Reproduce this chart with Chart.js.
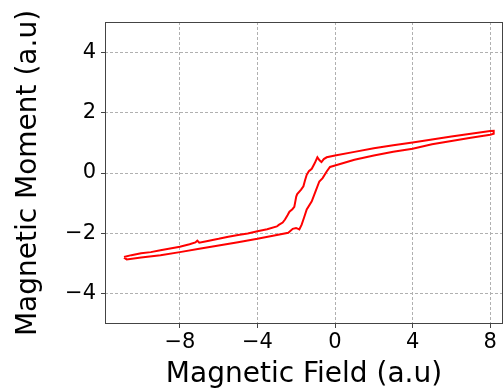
<!DOCTYPE html>
<html>
<head>
<meta charset="utf-8">
<script src="https://cdn.jsdelivr.net/npm/chart.js@4.4.1/dist/chart.umd.min.js"></script>
<style>
  html, body { margin: 0; padding: 0; background: #fff; }
  #wrap { width: 503px; height: 392px; }
</style>
</head>
<body>
<div id="wrap"><canvas id="c" width="503" height="392"></canvas></div>
<script>
// hysteresis loop: upper branch left -> right, then lower branch right -> left
const fieldValues = [
  -10.88, -10.5, -10.0, -9.5, -9.0, -8.5, -8.0, -7.5, -7.2, -7.1, -7.0, -6.5, -6.0, -5.5, -5.0, -4.5,
  -4.0, -3.5, -3.0, -2.9, -2.7, -2.58, -2.45, -2.35, -2.2, -2.1, -2.0, -1.95, -1.75, -1.63, -1.55,
  -1.46, -1.35, -1.2, -1.05, -0.91, -0.8, -0.7, -0.58, -0.43, 0.0, 1.0, 2.0, 3.0, 4.0, 5.0, 6.0,
  7.0, 8.0, 8.18, 8.18,
  8.0, 7.0, 6.0, 5.0, 4.0, 3.0, 2.0, 1.0, 0.0, -0.26, -0.43, -0.64, -0.81, -1.0, -1.2, -1.46,
  -1.6, -1.72, -1.84, -2.01, -2.18, -2.41, -3.0, -4.0, -5.0, -6.0, -7.0, -8.0, -9.0, -10.0,
  -10.74, -10.88
];
const momentValues = [
  -2.78, -2.72, -2.66, -2.62, -2.56, -2.50, -2.44, -2.36, -2.30, -2.24, -2.31, -2.24, -2.18, -2.11, -2.05, -2.00,
  -1.93, -1.86, -1.77, -1.72, -1.64, -1.54, -1.40, -1.28, -1.20, -1.12, -0.78, -0.70, -0.55, -0.44, -0.25,
  -0.06, 0.06, 0.14, 0.32, 0.52, 0.42, 0.36, 0.46, 0.52, 0.58, 0.70, 0.82, 0.92, 1.01, 1.11, 1.21,
  1.30, 1.39, 1.40, 1.30,
  1.27, 1.17, 1.06, 0.95, 0.80, 0.70, 0.58, 0.44, 0.25, 0.20, 0.05, -0.17, -0.28, -0.60, -0.94, -1.21,
  -1.48, -1.71, -1.87, -1.82, -1.85, -1.98, -2.05, -2.18, -2.29, -2.40, -2.51, -2.62, -2.72, -2.80,
  -2.86, -2.80
];
const xTicks = [-8, -4, 0, 4, 8];
const yTicks = [-4, -2, 0, 2, 4];

const fmt = v => (v < 0 ? "\u2212" + Math.abs(v) : String(v));
const tickFont = { family: "DejaVu Sans", size: 21 };
const titleFont = { family: "DejaVu Sans", size: 28 };

const frame = {
  id: "frame",
  afterDatasetsDraw(chart) {
    const { ctx, chartArea: a } = chart;
    ctx.save();
    ctx.strokeStyle = "#444";
    ctx.lineWidth = 1;
    ctx.strokeRect(a.left + 0.5, a.top + 0.5, a.right - a.left - 1, a.bottom - a.top - 1);
    ctx.restore();
  }
};

new Chart(document.getElementById("c"), {
  type: "scatter",
  data: {
    datasets: [{
      data: fieldValues.map((x, i) => ({ x: x, y: momentValues[i] })),
      showLine: true,
      borderColor: "#ff0000",
      borderWidth: 2,
      pointRadius: 0,
      tension: 0
    }]
  },
  options: {
    responsive: false,
    animation: false,
    devicePixelRatio: 1,
    layout: { padding: { top: 22, right: 0, left: 0, bottom: 0 } },
    plugins: { legend: { display: false }, tooltip: { enabled: false } },
    scales: {
      x: {
        type: "linear", min: -11.86, max: 8.66,
        afterBuildTicks: s => { s.ticks = xTicks.map(v => ({ value: v })); },
        afterFit: s => { s.height = 68; },
        ticks: { font: tickFont, color: "#000", padding: 2, maxRotation: 0, callback: v => fmt(v) },
        grid: { color: "#b0b0b0", tickColor: "#444", tickLength: 4, lineWidth: 1 },
        border: { display: false, dash: [3, 2] },
        title: { display: true, text: "Magnetic Field (a.u)", font: titleFont, color: "#000", padding: { top: 0, bottom: 0 } }
      },
      y: {
        type: "linear", min: -5, max: 5,
        afterBuildTicks: s => { s.ticks = yTicks.map(v => ({ value: v })); },
        afterFit: s => { s.width = 105; },
        ticks: { font: tickFont, color: "#000", padding: 5, callback: v => fmt(v) },
        grid: { color: "#b0b0b0", tickColor: "#444", tickLength: 4, lineWidth: 1 },
        border: { display: false, dash: [3, 2] },
        title: { display: true, text: "Magnetic Moment (a.u)", font: titleFont, color: "#000", padding: { top: 12, bottom: 0 } }
      }
    }
  },
  plugins: [frame]
});
</script>
</body>
</html>
